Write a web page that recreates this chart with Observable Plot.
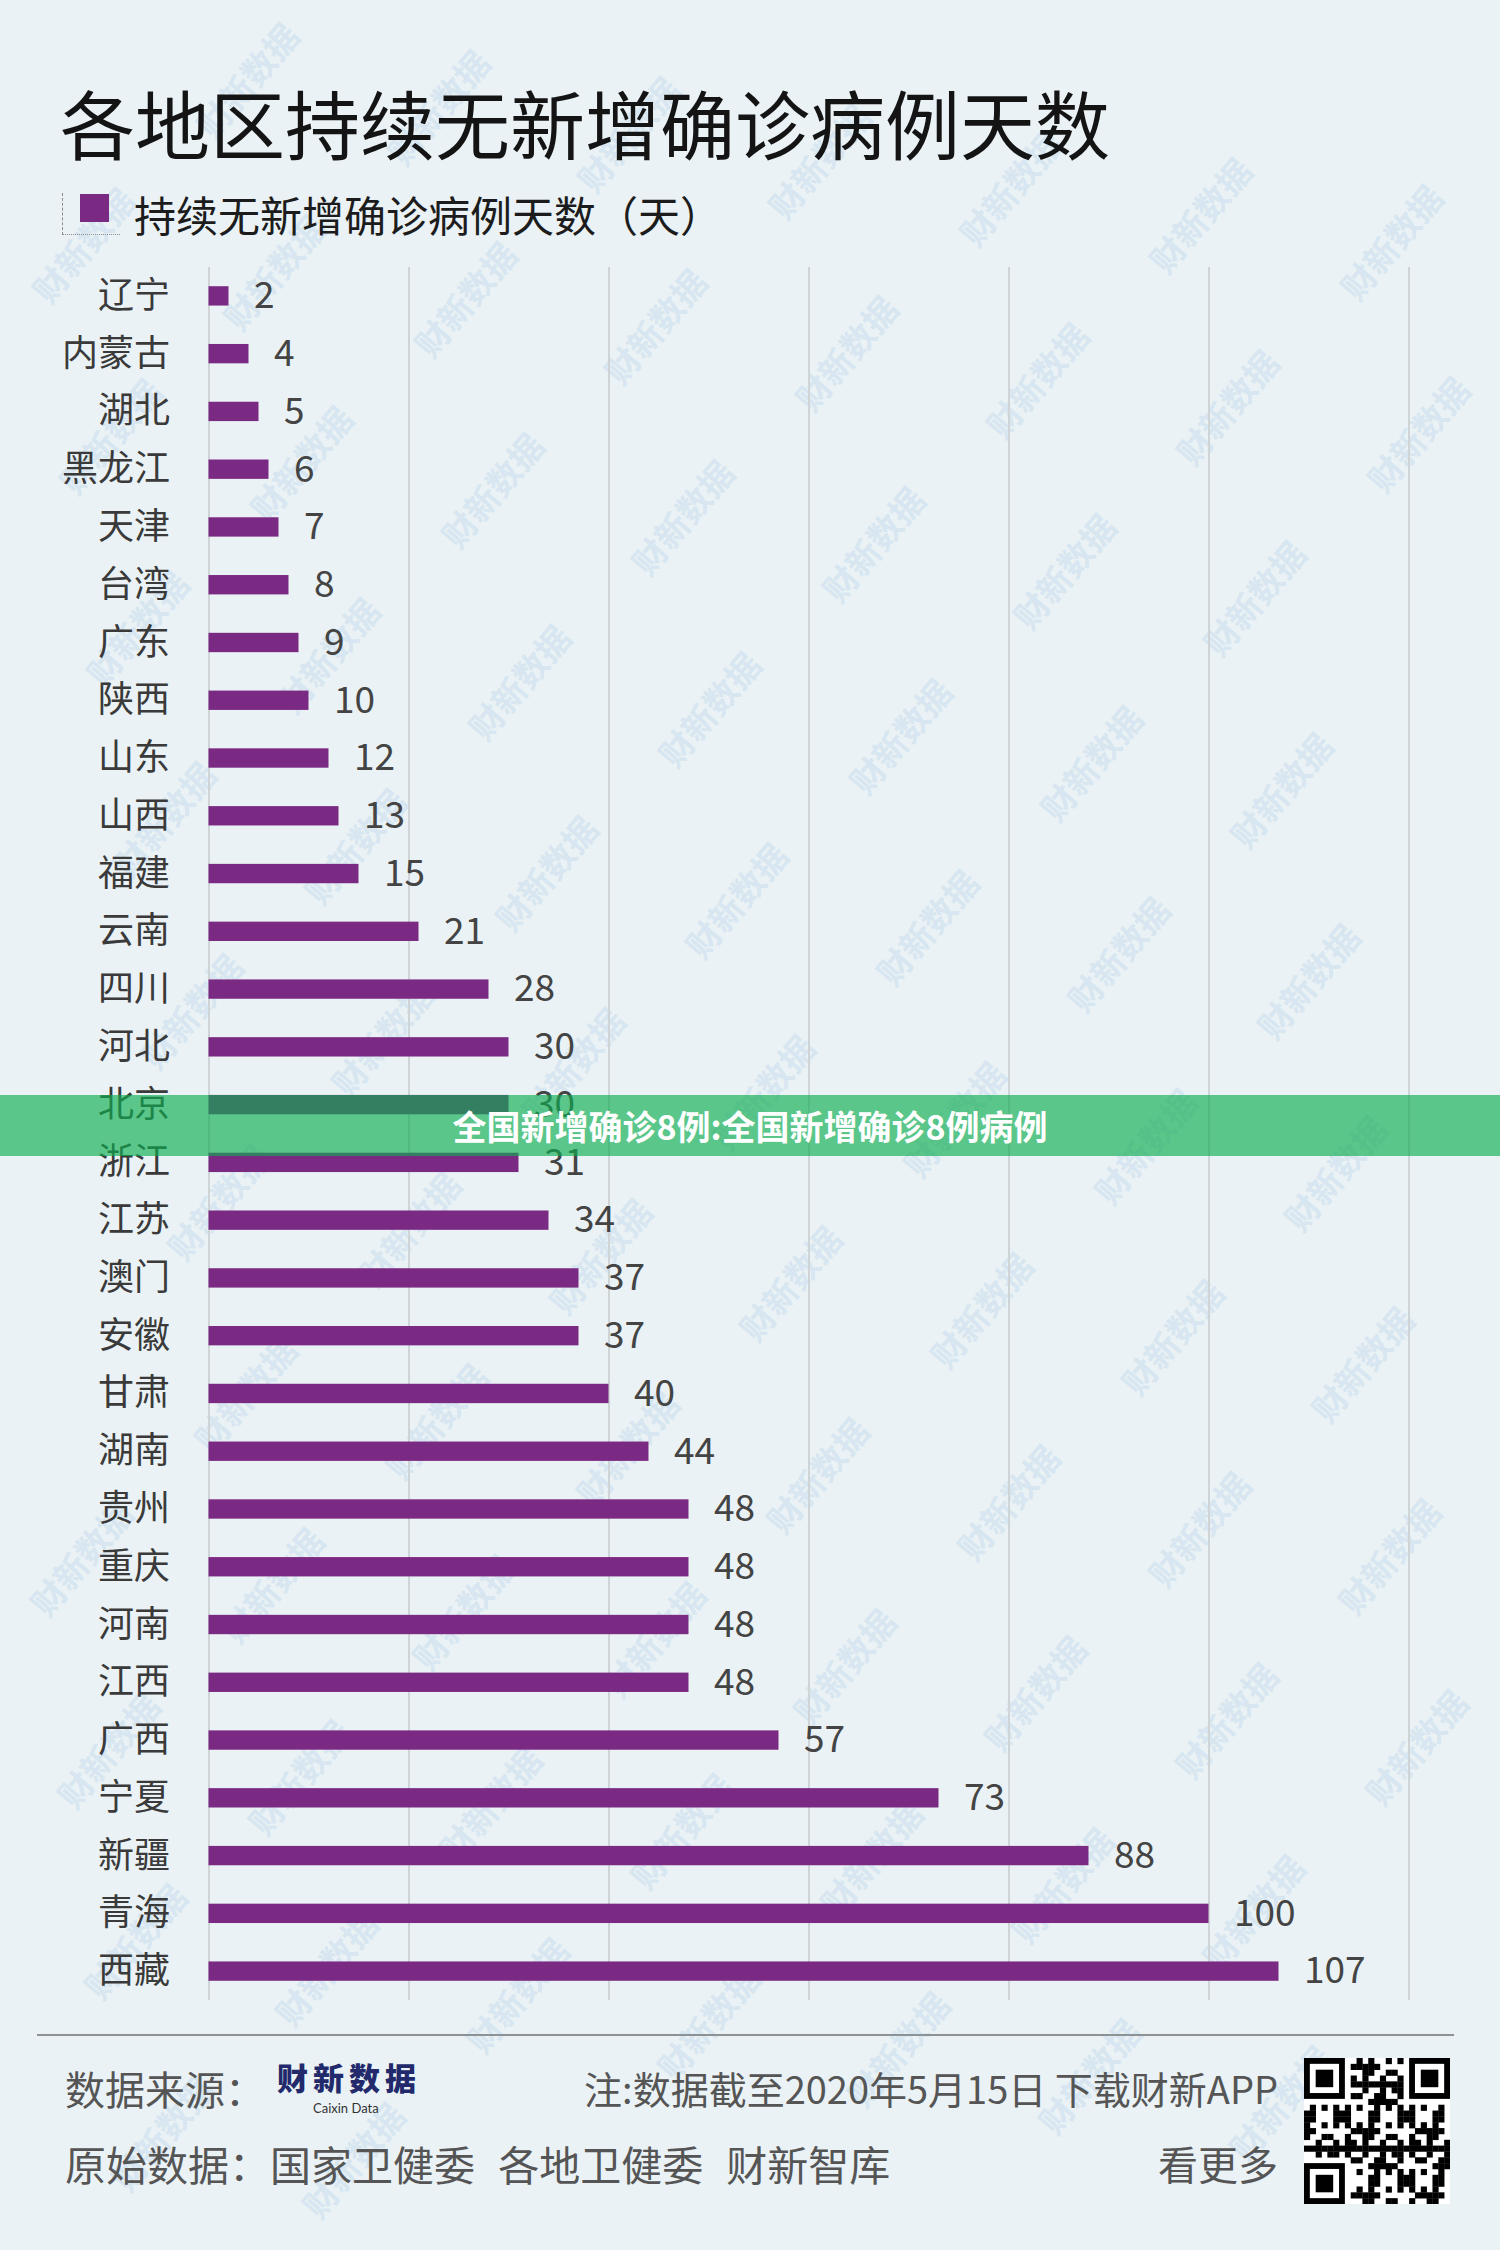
<!DOCTYPE html>
<html>
<head>
<meta charset="utf-8">
<script src="https://cdn.jsdelivr.net/npm/d3@7"></script>
<script src="https://cdn.jsdelivr.net/npm/@observablehq/plot@0.6"></script>
<style>
  body { margin: 0; background: #eaf2f5; }
  #page { position: relative; width: 1500px; height: 2250px; background: #eaf2f5; overflow: hidden;
          font-family: "Noto Sans CJK SC", "Noto Sans", sans-serif; }
  .abs { position: absolute; white-space: nowrap; }
  #wm { position: absolute; left: 0; top: 0; width: 1500px; height: 2250px; pointer-events: none; }
  .wmk { position: absolute; font-size: 34px; font-weight: 700; color: rgba(185,212,232,0.4);
         transform: translate(-50%, -50%) rotate(-50deg); white-space: nowrap; line-height: 34px; }
</style>
</head>
<body>
<div id="page">
  <div id="wm"></div>

  <div class="abs" style="left:60px; top:77px; font-size:75px; line-height:90px; color:#141414;">各地区持续无新增确诊病例天数</div>
  <div class="abs" style="left:62px; top:193px; width:0; height:42px; border-left:1.5px dashed #8c8c8c;"></div>
  <div class="abs" style="left:62px; top:234px; width:58px; height:0; border-top:1.5px dotted #8c8c8c;"></div>
  <div class="abs" id="legsw" style="left:80px; top:194px; width:29px; height:28px;"></div>
  <div class="abs" id="legtx" style="left:134px; top:188px; font-size:42px; line-height:52px; color:#1c1c1c;"></div>

  <div class="abs" id="chart" style="left:0; top:240px;"></div>

  <div class="abs" style="left:37px; top:2034px; width:1417px; height:0; border-top:2px solid #8d9295;"></div>
  <div class="abs" style="left:65px; top:2063px; font-size:40px; line-height:50px; color:#555;">数据来源：</div>
  <div class="abs" style="left:277px; top:2057px; font-size:31px; line-height:40px; font-weight:900; letter-spacing:5px; color:#222a6c;">财新数据</div>
  <div class="abs" style="left:313px; top:2100px; font-size:13px; line-height:16px; color:#333; font-family:Lato, sans-serif;">Caixin Data</div>
  <div class="abs" style="right:222px; top:2063px; font-size:38px; line-height:50px; color:#555;">注:数据截至2020年5月15日 下载财新APP</div>
  <div class="abs" style="left:65px; top:2138px; font-size:41px; line-height:50px; color:#555; word-spacing:14px;">原始数据：国家卫健委 各地卫健委 财新智库</div>
  <div class="abs" style="right:222px; top:2138px; font-size:40px; line-height:50px; color:#555;">看更多</div>
  <canvas class="abs" id="qr" width="146" height="146" style="left:1304px; top:2058px;"></canvas>

  <div class="abs" style="left:0; top:1095px; width:1500px; height:61px; background:rgba(14,173,80,0.65); color:#fff; font-size:34px; font-weight:700; line-height:61px; text-align:center;">全国新增确诊8例:全国新增确诊8例病例</div>
</div>
<script>
// ---- data ----
const provinces = ["辽宁","内蒙古","湖北","黑龙江","天津","台湾","广东","陕西","山东","山西","福建","云南","四川","河北","北京","浙江","江苏","澳门","安徽","甘肃","湖南","贵州","重庆","河南","江西","广西","宁夏","新疆","青海","西藏"];
const days = [2,4,5,6,7,8,9,10,12,13,15,21,28,30,30,31,34,37,37,40,44,48,48,48,48,57,73,88,100,107];
const gridTicks = [0,20,40,60,80,100,120];
const seriesName = "持续无新增确诊病例天数（天）";
const barColor = "#7b2a83";

const data = provinces.map((p, i) => ({province: p, days: days[i]}));

document.getElementById("legsw").style.background = barColor;
document.getElementById("legtx").textContent = seriesName;

const chart = Plot.plot({
  width: 1500,
  height: 1790,
  marginTop: 27,
  marginBottom: 30,
  marginLeft: 208.5,
  marginRight: 91.5,
  style: {background: "transparent", fontFamily: "'Noto Sans CJK SC', 'Noto Sans', sans-serif", color: "#3d3d3d"},
  x: {domain: [0, 120], axis: null},
  y: {domain: provinces, paddingInner: 0.665, paddingOuter: 0.3325, round: false},
  marks: [
    Plot.ruleX(gridTicks, {stroke: "#cfd4d7", strokeWidth: 2}),
    Plot.barX(data, {x: "days", y: "province", fill: barColor}),
    Plot.text(data, {x: "days", y: "province", text: d => String(d.days), textAnchor: "start", dx: 25, fontSize: 37, fill: "#444"}),
    Plot.axisY({tickSize: 0, tickPadding: 39, fontSize: 36, fill: "#3a3a3a", label: null})
  ]
});
document.getElementById("chart").appendChild(chart);

// ---- watermark layer (decoration), kept fully inside the page ----
const wm = document.getElementById("wm");
const ox = 1036.6, oy = 379.5;
for (let i = -8; i <= 8; i++) {
  for (let j = -4; j <= 12; j++) {
    const x = ox + i * 190.7 + j * 27;
    const y = oy + i * 27 + j * 191.5;
    if (x < 60 || x > 1440 || y < 70 || y > 2180) continue;
    const el = document.createElement("div");
    el.className = "wmk";
    el.style.left = x + "px";
    el.style.top = y + "px";
    el.textContent = "财新数据";
    wm.appendChild(el);
  }
}

// ---- QR-like decoration ----
const cv = document.getElementById("qr");
const ctx = cv.getContext("2d");
const N = 25, m = 146 / N;
ctx.fillStyle = "#fff"; ctx.fillRect(0, 0, 146, 146);
ctx.fillStyle = "#000";
function finder(cx, cy) {
  ctx.fillRect(cx * m, cy * m, 7 * m, 7 * m);
  ctx.fillStyle = "#fff"; ctx.fillRect((cx + 1) * m, (cy + 1) * m, 5 * m, 5 * m);
  ctx.fillStyle = "#000"; ctx.fillRect((cx + 2) * m, (cy + 2) * m, 3 * m, 3 * m);
}
for (let r = 0; r < N; r++) for (let c = 0; c < N; c++) {
  const inF = (r < 8 && c < 8) || (r < 8 && c >= N - 8) || (r >= N - 8 && c < 8);
  if (inF) continue;
  if (((r * r * 3 + c * 5 + r * c * 7) % 11) < 5) ctx.fillRect(c * m, r * m, m + 0.3, m + 0.3);
}
finder(0, 0); finder(N - 7, 0); finder(0, N - 7);
</script>
</body>
</html>
